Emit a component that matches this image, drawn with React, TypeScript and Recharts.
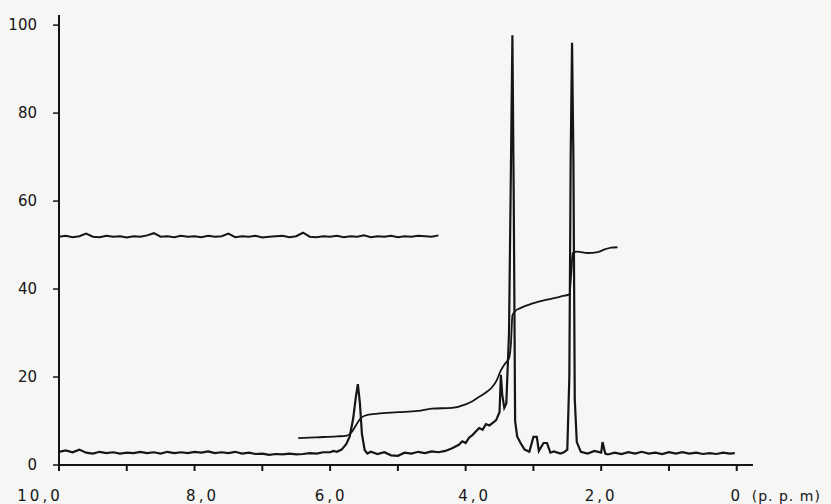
import React from 'react';
import { LineChart, Line, XAxis, YAxis } from 'recharts';

// chemical shift (ppm) ticks and labels
const xTicks = [10, 9, 8, 7, 6, 5, 4, 3, 2, 1, 0];
const xLabels: Record<number, string> = { 10: '10,0', 8: '8,0', 6: '6,0', 4: '4,0', 2: '2,0', 0: '0' };
const yTicks = [0, 20, 40, 60, 80, 100];

// lower trace: spectrum
const specPpm = [
  10.0, 9.9, 9.8, 9.7, 9.6, 9.5, 9.4, 9.3, 9.2, 9.1, 9.0, 8.9, 8.8, 8.7, 8.6, 8.5, 8.4, 8.3, 8.2, 8.1,
  8.0, 7.9, 7.8, 7.7, 7.6, 7.5, 7.4, 7.3, 7.2, 7.1, 7.0, 6.9, 6.8, 6.7, 6.6, 6.5, 6.4, 6.3, 6.2, 6.1,
  6.0, 5.95, 5.9, 5.83, 5.76, 5.71, 5.66, 5.62, 5.59, 5.56, 5.53, 5.49, 5.45, 5.4, 5.3, 5.2, 5.1, 5.0,
  4.9, 4.8, 4.7, 4.6, 4.5, 4.4, 4.3, 4.2, 4.1, 4.05, 4.0, 3.95, 3.9, 3.85, 3.8, 3.75, 3.7, 3.65, 3.6,
  3.55, 3.5, 3.48, 3.46, 3.43, 3.4, 3.36, 3.33, 3.31, 3.29, 3.27, 3.24, 3.19, 3.13, 3.06, 3.0, 2.95,
  2.92, 2.85, 2.8, 2.75, 2.7, 2.6, 2.55, 2.5, 2.47, 2.45, 2.43, 2.41, 2.39, 2.36, 2.3, 2.2, 2.1, 2.0,
  1.98, 1.94, 1.9, 1.8, 1.7, 1.6, 1.5, 1.4, 1.3, 1.2, 1.1, 1.0, 0.9, 0.8, 0.7, 0.6, 0.5, 0.4, 0.3,
  0.2, 0.1, 0.03,
];
const specVal = [
  3.0, 3.3, 2.9, 3.5, 2.8, 2.6, 3.0, 2.7, 2.9, 2.6, 2.8, 2.7, 3.0, 2.7, 2.9, 2.6, 3.0, 2.7, 2.9, 2.7,
  3.0, 2.8, 3.1, 2.7, 2.9, 2.7, 3.0, 2.6, 2.8, 2.5, 2.6, 2.3, 2.5, 2.4, 2.6, 2.4, 2.5, 2.7, 2.6, 2.9,
  2.9, 3.2, 3.0, 3.5, 4.8, 6.5, 10.5, 15.5, 18.4, 14.0, 7.0, 3.4, 2.6, 3.0, 2.5, 2.9, 2.2, 2.1,
  2.8, 2.6, 3.0, 2.7, 3.1, 2.9, 3.2, 3.8, 4.6, 5.4, 5.0, 6.2, 6.8, 7.6, 8.4, 8.0, 9.3, 9.0, 9.6,
  10.2, 12.0, 20.5, 16.0, 13.0, 14.0, 30.0, 70.0, 97.7, 60.0, 10.0, 6.5, 5.0, 3.5, 3.0, 6.4, 6.4,
  3.2, 5.0, 5.0, 2.8, 3.1, 2.6, 2.9, 3.5, 20.0, 70.0, 96.0, 70.0, 15.0, 5.2, 3.0, 2.6, 3.2, 2.8,
  5.2, 2.6, 2.4, 2.8, 2.5, 2.9, 2.6, 3.0, 2.6, 2.8, 2.5, 2.9, 2.6, 2.9, 2.6, 2.8, 2.5, 2.7, 2.5,
  2.8, 2.6, 2.7,
];

// upper trace: offset spectrum, 10.0 to 4.4 ppm
const upperPpm = [
  10.0, 9.9, 9.8, 9.7, 9.6, 9.5, 9.4, 9.3, 9.2, 9.1, 9.0, 8.9, 8.8, 8.7, 8.6, 8.5, 8.4, 8.3, 8.2, 8.1,
  8.0, 7.9, 7.8, 7.7, 7.6, 7.5, 7.4, 7.3, 7.2, 7.1, 7.0, 6.9, 6.8, 6.7, 6.6, 6.5, 6.4, 6.3, 6.2, 6.1,
  6.0, 5.9, 5.8, 5.7, 5.6, 5.5, 5.4, 5.3, 5.2, 5.1, 5.0, 4.9, 4.8, 4.7, 4.6, 4.5, 4.4,
];
const upperVal = [
  51.9, 52.1, 51.8, 52.0, 52.6, 51.9, 51.8, 52.1, 51.9, 52.0, 51.7, 52.0, 51.9, 52.2, 52.7, 51.9, 52.0, 51.8, 52.1, 51.9,
  52.0, 51.8, 52.1, 51.9, 52.0, 52.6, 51.8, 52.0, 51.9, 52.1, 51.7, 51.9, 52.0, 52.1, 51.8, 52.0, 52.8, 51.9, 51.8, 52.0,
  51.9, 52.1, 51.8, 52.0, 51.9, 52.2, 51.8, 52.0, 51.9, 52.1, 51.8, 52.0, 51.9, 52.1, 52.0, 51.9, 52.2,
];

// integral curve
const integPpm = [
  6.47, 6.2, 5.9, 5.75, 5.68, 5.62, 5.55, 5.49, 5.3, 5.0, 4.7, 4.5, 4.2, 4.0, 3.9, 3.8, 3.7, 3.62,
  3.55, 3.48, 3.42, 3.36, 3.33, 3.31, 3.27, 3.2, 3.0, 2.8, 2.6, 2.47, 2.44, 2.42, 2.35, 2.2, 2.05,
  1.95, 1.85, 1.76,
];
const integVal = [
  6.1, 6.3, 6.5, 6.7, 7.5, 9.0, 10.6, 11.2, 11.7, 12.0, 12.3, 12.8, 13.0, 13.8, 14.5, 15.5, 16.5, 17.5,
  19.0, 21.5, 23.0, 24.3, 28.0, 34.0, 35.0, 35.6, 36.8, 37.6, 38.3, 38.8, 44.0, 48.2, 48.5, 48.2, 48.4,
  49.0, 49.4, 49.5,
];

const toRows = (xs: number[], ys: number[]) => xs.map((ppm, i) => ({ ppm, v: ys[i] }));

const spectrum = toRows(specPpm, specVal);
const upper = toRows(upperPpm, upperVal);
const integral = toRows(integPpm, integVal);

const font = '"DejaVu Sans", sans-serif';
const ink = '#151515';

// label nudges so the text sits where the scan puts it
const labelShift: Record<number, number> = { 10: -19, 8: 8, 6: 1, 4: 9, 2: 0, 0: 0 };

const XTick = (props: any) => {
  const { x, payload } = props;
  const label = xLabels[payload.value];
  if (label === undefined) return null;
  const cx = x + (labelShift[payload.value] || 0);
  return (
    <g>
      <text x={cx} y={501} textAnchor="middle" fill={ink}
        fontSize={15} fontFamily={font} letterSpacing={3}>
        {label}
      </text>
      {payload.value === 0 && (
        <text x={cx + 15} y={501} textAnchor="start" fill={ink}
          fontSize={14} fontFamily={font} letterSpacing={1}>
          (p. p. m)
        </text>
      )}
    </g>
  );
};

export default function App() {
  return (
    <div style={{ width: 831, height: 504, background: '#f6f6f5' }}>
      <style>{'body{margin:0}'}</style>
      <LineChart width={831} height={504} margin={{ top: 15, right: 78, bottom: 0, left: 0 }}>
        <XAxis
          dataKey="ppm"
          type="number"
          domain={[-0.24, 10]}
          reversed
          allowDataOverflow
          ticks={xTicks}
          interval={0}
          height={39}
          tickSize={6}
          axisLine={{ stroke: ink, strokeWidth: 2 }}
          tickLine={{ stroke: ink, strokeWidth: 2 }}
          tick={<XTick />}
        />
        <YAxis
          type="number"
          domain={[0, 102.3]}
          ticks={yTicks}
          interval={0}
          width={59}
          tickSize={6}
          tickMargin={16}
          axisLine={{ stroke: ink, strokeWidth: 2 }}
          tickLine={{ stroke: ink, strokeWidth: 1.5 }}
          tick={{ fill: ink, fontSize: 15, fontFamily: font }}
        />
        <Line data={upper} dataKey="v" type="linear" stroke={ink} strokeWidth={2} dot={false} isAnimationActive={false} />
        <Line data={integral} dataKey="v" type="monotone" stroke={ink} strokeWidth={1.8} dot={false} isAnimationActive={false} />
        <Line data={spectrum} dataKey="v" type="linear" stroke={ink} strokeWidth={2.2} dot={false} isAnimationActive={false} />
      </LineChart>
    </div>
  );
}
